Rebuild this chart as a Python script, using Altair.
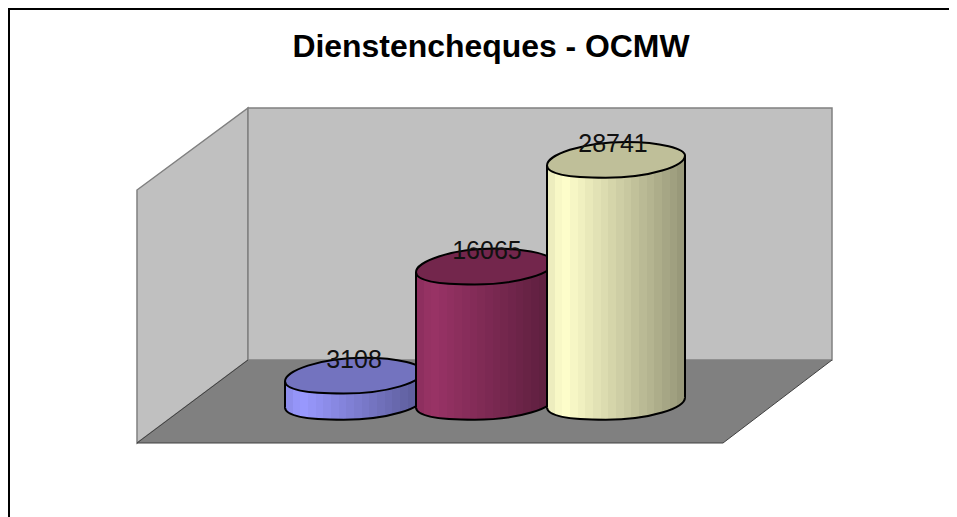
import altair as alt
import pandas as pd

# ---- chart values
categories = ["Reeks 1", "Reeks 2", "Reeks 3"]
values = [3108, 16065, 28741]
positions = [0, 1, 2]
label_shift = [0, 0.015, -0.023]
base_colors = [(153, 153, 255), (153, 51, 102), (255, 255, 204)]
title_text = "Dienstencheques - OCMW"

# ---- scene outline (the 3D room), in canvas units
left_wall_x = [129, 240]
left_wall_top = [182, 100]
left_wall_bottom = [435, 352]
back_wall_x = [240, 824]
back_wall_top = [100, 100]
back_wall_bottom = [352, 352]
floor_y = [352, 435]
floor_x_left = [240, 129]
floor_x_right = [824, 715]
edge_x = [240, 129, 715, 824]
edge_y = [352, 435, 435, 352]
frame_x = [1, 1, 949]
frame_y = [520, 1, 1]

# The page shrinks a chart wider than 941 px to fit and centres it vertically;
# K and DY undo that, so the top frame line can run on to the window's right edge.
K = 949 / 941
W, H = 949, 509 * K
DY = 2.15
SHEAR = 594  # tilt of the cylinder ends, in value units
HALF = 0.5267
ELLIPSE = (
    "M-1,0.0725 C-1,-0.08 -0.5,-0.27 0.15,-0.27 C0.65,-0.27 1,-0.17 1,-0.0725 "
    "C1,0.08 0.5,0.25 -0.15,0.25 C-0.65,0.25 -1,0.2 -1,0.0725 Z"
)
SIZE = (138 * K) ** 2
LINE = 2 * K


def hexc(c):
    return "#%02x%02x%02x" % tuple(int(round(v)) for v in c)


def banded(rgb, bands=18, peak=0.1, low=0.6, start=0.93):
    stops = []
    for i in range(bands):
        t = i / (bands - 1)
        if t < peak:
            k = start + (1 - start) * t / peak
        else:
            k = 1 - (1 - low) * (t - peak) / (1 - peak)
        col = hexc([v * k for v in rgb])
        stops.append(alt.GradientStop(color=col, offset=i / bands))
        stops.append(alt.GradientStop(color=col, offset=(i + 1) / bands))
    return alt.Gradient(gradient="linear", stops=stops, x1=0, x2=1, y1=0, y2=0)


px = alt.Scale(domain=[0, 941], range=[0, 941 * K])
py = alt.Scale(domain=[0, 509], range=[-DY * K, (509 - DY) * K])
X = lambda f: alt.X(f, type="quantitative", scale=px, axis=None)
Y = lambda f: alt.Y(f, type="quantitative", scale=py, axis=None)

wall_style = dict(color="#c0c0c0", stroke="#808080", strokeWidth=1.5 * K, opacity=1, line=False)
left_wall = alt.Chart(pd.DataFrame({"x": left_wall_x, "y": left_wall_top, "y2": left_wall_bottom})).mark_area(**wall_style).encode(
    x=X("x"), y=Y("y"), y2="y2")
back_wall = alt.Chart(pd.DataFrame({"x": back_wall_x, "y": back_wall_top, "y2": back_wall_bottom})).mark_area(**wall_style).encode(
    x=X("x"), y=Y("y"), y2="y2")
floor = alt.Chart(pd.DataFrame({"y": floor_y, "x": floor_x_left, "x2": floor_x_right})).mark_area(
    orient="horizontal", color="#808080", opacity=1).encode(x=X("x"), x2="x2", y=Y("y"))
edge = alt.Chart(pd.DataFrame({"x": edge_x, "y": edge_y, "o": range(4)})).mark_line(
    color="#404040", strokeWidth=K).encode(x=X("x"), y=Y("y"), order="o")
frame = alt.Chart(pd.DataFrame({"x": frame_x, "y": frame_y, "o": range(3)})).mark_line(
    color="black", strokeWidth=LINE).encode(x=X("x"), y=Y("y"), order="o")
scene = alt.layer(frame, left_wall, back_wall, floor, edge)

xs = alt.Scale(domain=[0, 2], range=[346 * K, 608 * K])
ys = alt.Scale(domain=[0, 28741], range=[(394.5 - DY) * K, (152.5 - DY) * K])
CX = lambda f: alt.X(f, type="quantitative", scale=xs, axis=None)
CY = lambda f: alt.Y(f, type="quantitative", scale=ys, axis=None)

layers = []
for cat, val, pos, rgb in zip(categories, values, positions, base_colors):
    grad = banded(rgb)
    top_col = hexc([v * 0.75 for v in rgb])
    one = pd.DataFrame({"category": [cat], "pos": [pos], "value": [val], "zero": [0]})
    body = pd.DataFrame({
        "x": [pos - HALF, pos + HALF],
        "top": [val - SHEAR, val + SHEAR],
        "bottom": [-SHEAR, SHEAR],
    })
    layers.append(alt.Chart(one).mark_point(
        shape=ELLIPSE, size=SIZE, filled=True, fill=grad, stroke="black", strokeWidth=LINE, opacity=1
    ).encode(x=CX("pos"), y=CY("zero")))
    layers.append(alt.Chart(body).mark_area(fill=grad, opacity=1, line=False).encode(
        x=CX("x"), y=CY("top"), y2="bottom"))
    layers.append(alt.Chart(body).mark_rule(color="black", strokeWidth=LINE).encode(
        x=CX("x"), y=CY("top"), y2="bottom"))
    layers.append(alt.Chart(one).mark_point(
        shape=ELLIPSE, size=SIZE, filled=True, fill=top_col, stroke="black", strokeWidth=LINE, opacity=1
    ).encode(x=CX("pos"), y=CY("value")))

label_df = pd.DataFrame({"pos": [p + s for p, s in zip(positions, label_shift)], "value": values})
labels = alt.Chart(label_df).mark_text(
    font="Liberation Sans", fontSize=25 * K, color="#111111", dy=-16.5 * K, baseline="middle", align="center"
).encode(x=CX("pos"), y=CY("value"), text=alt.Text("value:Q", format="d"))

cyl = alt.layer(*layers, labels)

chart = alt.layer(scene, cyl).resolve_scale(x="independent", y="independent").properties(
    width=W, height=H, padding=0, background="white",
    autosize=alt.AutoSizeParams(type="none"),
    title=alt.TitleParams(
        title_text, font="Liberation Sans", fontSize=32.2, fontWeight="bold", color="black",
        anchor="middle", frame="group", dx=12.6, dy=85, offset=0, baseline="alphabetic",
    ),
).configure_view(stroke=None)

chart.save("out.html", embed_options={"renderer": "svg", "actions": False})
